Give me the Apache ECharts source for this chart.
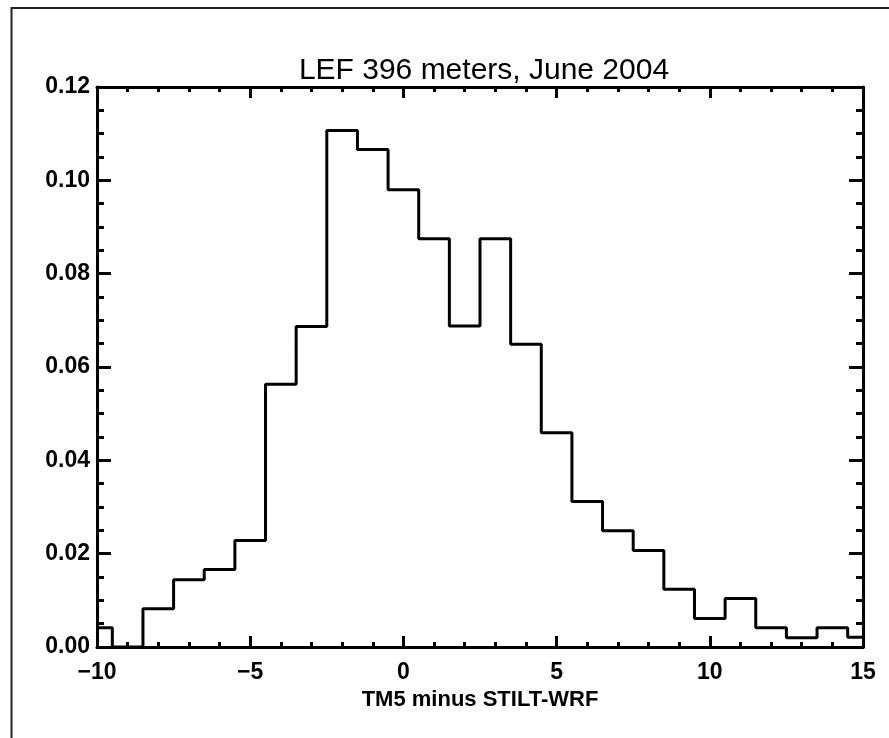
<!DOCTYPE html>
<html>
<head>
<meta charset="utf-8">
<title>LEF 396 meters, June 2004</title>
<script src="https://cdn.jsdelivr.net/npm/echarts@6/dist/echarts.min.js"></script>
<style>
  html, body { margin: 0; padding: 0; background: #fff; }
  #chart { width: 889px; height: 738px; }
</style>
</head>
<body>
<div id="chart"></div>
<script>
  // bin centres (width 1) and fraction of samples in each bin
  var binCenters = [-10, -9, -8, -7, -6, -5, -4, -3, -2, -1, 0, 1, 2,
                    3, 4, 5, 6, 7, 8, 9, 10, 11, 12, 13, 14, 15];
  var binFractions = [0.0041, 0, 0.0082, 0.0144, 0.0166, 0.0228, 0.0563, 0.0687, 0.1107, 0.1066, 0.0980, 0.0875, 0.0688,
                      0.0875, 0.0649, 0.0459, 0.0312, 0.0249, 0.0207, 0.0124, 0.0061, 0.0104, 0.0041, 0.0020, 0.0041, 0.0021];
  var xTicks = [-10, -5, 0, 5, 10, 15];
  var yTicks = [0, 0.02, 0.04, 0.06, 0.08, 0.10, 0.12];

  var font = '"Liberation Sans", Arial, Helvetica, sans-serif';
  var histData = [];
  for (var i = 0; i < binCenters.length; i++) {
    histData.push([binCenters[i], binFractions[i]]);
  }

  function xLabel(v) {
    return v < 0 ? '\u2212' + Math.abs(v) : String(v);
  }

  var chart = echarts.init(document.getElementById('chart'));
  var axisLine = { show: true, onZero: false, lineStyle: { color: '#000', width: 3 } };
  var xTick = { show: true, inside: true, length: 11, lineStyle: { color: '#000', width: 3 } };
  var xMinor = { show: true, splitNumber: 5, length: 5, lineStyle: { color: '#000', width: 3 } };
  var yTick = { show: true, inside: true, length: 14, lineStyle: { color: '#000', width: 3 } };
  var yMinor = { show: true, splitNumber: 4, length: 7, lineStyle: { color: '#000', width: 3 } };

  chart.setOption({
    animation: false,
    backgroundColor: '#fff',
    title: {
      text: 'LEF 396 meters, June 2004',
      left: 479,
      top: 51,
      textAlign: 'center',
      textStyle: { fontFamily: font, fontSize: 30, fontWeight: 'normal', color: '#000' }
    },
    graphic: [{
      type: 'rect',
      shape: { x: 11.5, y: 8, width: 900, height: 760 },
      style: { fill: 'none', stroke: '#222', lineWidth: 2 },
      silent: true
    }],
    grid: { left: 97, top: 87, width: 766, height: 560 },
    xAxis: [{
      type: 'value',
      min: xTicks[0],
      max: xTicks[xTicks.length - 1],
      interval: 5,
      position: 'bottom',
      name: 'TM5 minus STILT-WRF',
      nameLocation: 'middle',
      nameGap: 39,
      nameTextStyle: { fontFamily: font, fontSize: 22, fontWeight: 'bold', color: '#000' },
      axisLine: axisLine,
      axisTick: xTick,
      minorTick: xMinor,
      splitLine: { show: false },
      axisLabel: {
        margin: 14, fontFamily: font, fontSize: 23, fontWeight: 'bold', color: '#000',
        formatter: xLabel
      }
    }, {
      type: 'value',
      min: xTicks[0],
      max: xTicks[xTicks.length - 1],
      interval: 5,
      position: 'top',
      axisLine: axisLine,
      axisTick: xTick,
      minorTick: xMinor,
      splitLine: { show: false },
      axisLabel: { show: false }
    }],
    yAxis: [{
      type: 'value',
      min: yTicks[0],
      max: yTicks[yTicks.length - 1],
      interval: 0.02,
      position: 'left',
      axisLine: axisLine,
      axisTick: yTick,
      minorTick: yMinor,
      splitLine: { show: false },
      axisLabel: {
        margin: 7, fontFamily: font, fontSize: 23, fontWeight: 'bold', color: '#000',
        formatter: function (v) { return v.toFixed(2); }
      }
    }, {
      type: 'value',
      min: yTicks[0],
      max: yTicks[yTicks.length - 1],
      interval: 0.02,
      position: 'right',
      axisLine: axisLine,
      axisTick: yTick,
      minorTick: yMinor,
      splitLine: { show: false },
      axisLabel: { show: false }
    }],
    series: [{
      type: 'line',
      step: 'middle',
      data: histData,
      showSymbol: false,
      symbol: 'none',
      clip: true,
      lineStyle: { color: '#000', width: 3 },
      z: 1
    }]
  });
</script>
</body>
</html>
